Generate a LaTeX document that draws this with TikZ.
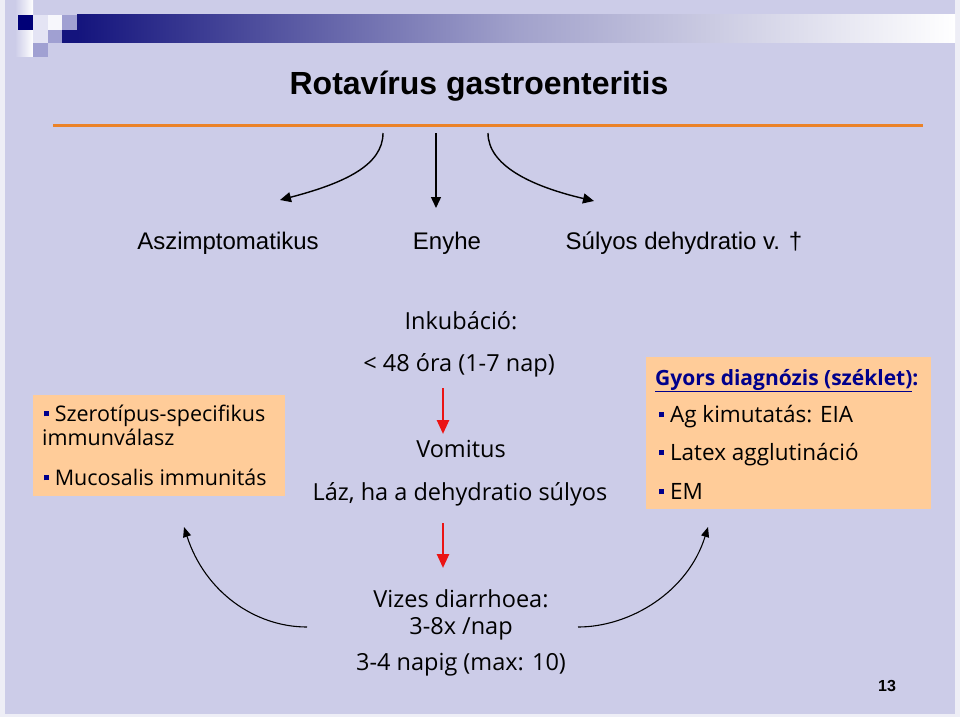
\documentclass[tikz,border=0pt]{standalone}
\usepackage{fontspec}
\setmainfont{Liberation Sans}
\newfontfamily\comic{Open Sans}
\usetikzlibrary{arrows.meta}
\definecolor{bg}{RGB}{204,204,232}
\definecolor{edge}{RGB}{238,238,246}
\definecolor{peach}{RGB}{255,204,153}
\definecolor{navy}{RGB}{0,0,140}
\definecolor{barnavy}{RGB}{20,20,125}
\definecolor{midlav}{RGB}{160,160,210}
\definecolor{palelav}{RGB}{228,228,244}
\definecolor{orangeline}{RGB}{235,130,40}
\definecolor{arrred}{RGB}{235,20,20}
\newcommand{\bul}{\textcolor{navy}{\rule[0.22em]{5pt}{5pt}}}
\tikzset{
  txt/.style={inner sep=0pt, anchor=base},
  ctxt/.style={inner sep=0pt, anchor=base, font=\comic\fontsize{23.5}{26}\selectfont},
  ltxt/.style={inner sep=0pt, anchor=base west, font=\comic\fontsize{21.5}{24}\selectfont},
  rtxt/.style={inner sep=0pt, anchor=base west, font=\comic\fontsize{22.5}{25}\selectfont},
  atxt/.style={inner sep=0pt, anchor=base, font=\fontsize{24}{28}\selectfont},
  blackarr/.style={line width=1.4pt, -{Triangle[width=10pt,length=11pt]}},
  thinarr/.style={line width=1.1pt, -{Triangle[width=8pt,length=10pt]}},
  redarr/.style={arrred, line width=2.6pt, -{Triangle[width=12pt,length=14pt]}},
  box/.style={fill=peach, draw=none}
}
\begin{document}
\begin{tikzpicture}[x=1pt,y=-1pt]
\useasboundingbox (0,0) rectangle (960,717);
\fill[edge] (0,0) rectangle (960,717);
\fill[bg] (5,0) rectangle (955,714);
% header decoration
\shade[left color=bg, right color=white] (15,0) rectangle (33,57);
\shade[left color=barnavy, right color=white, middle color=barnavy!40!white] (77,15) rectangle (955,43);
\fill[barnavy] (62,30) rectangle (78,43);
\fill[navy!85!black] (18,15) rectangle (33,30);
\fill[palelav] (33,15) rectangle (48,43);
\fill[white!70!palelav] (48,15) rectangle (62,30);
\fill[midlav] (62,15) rectangle (77,30);
\fill[midlav] (48,30) rectangle (62,43);
\fill[midlav] (33,43) rectangle (48,57);
% title and rule
\node[txt, font=\bfseries\fontsize{32}{36}\selectfont] (title) at (479,94) {Rotavírus gastroenteritis};
\draw[orangeline, line width=3pt] (53,125.5) coordinate (ruleL) -- (923,125.5) coordinate (ruleR);
% top labels
\node[atxt] (asz) at (228,249) {Aszimptomatikus};
\node[atxt] (eny) at (447,249) {Enyhe};
\node[atxt] (suly) at (684,249) {Súlyos dehydratio v. †};
\coordinate (t1s) at (383,133); \coordinate (t1e) at (280,200);
\coordinate (t2s) at (436,133); \coordinate (t2e) at (436,208);
\coordinate (t3s) at (488,133); \coordinate (t3e) at (594,201);
\draw[blackarr] (t1s) .. controls (383,165) and (345,183) .. (t1e);
\draw[blackarr] (t2s) -- (t2e);
\draw[blackarr] (t3s) .. controls (488,165) and (530,186) .. (t3e);
% left box
\fill[box] (33,395) rectangle (285,496);
\node[ltxt] (l1) at (44,421) {\bul\ Szerotípus-specifikus};
\node[ltxt] (l2) at (42,445) {immunválasz};
\node[ltxt] (l3) at (44,485) {\bul\ Mucosalis immunitás};
% right box
\fill[box] (646,357) rectangle (931,509);
\node[ltxt, font=\comic\bfseries\fontsize{21}{24}\selectfont, text=navy] (r0) at (655,385) {\underline{Gyors diagnózis (széklet)}:};
\node[rtxt] (r1) at (659,422) {\bul\ Ag kimutatás: EIA};
\node[rtxt] (r2) at (659,460) {\bul\ Latex agglutináció};
\node[rtxt] (r3) at (659,499) {\bul\ EM};
% centre column
\node[ctxt] (ink) at (461,329) {Inkubáció:};
\node[ctxt] (ora) at (459,371) {< 48 óra (1-7 nap)};
\node[ctxt] (vom) at (461,457) {Vomitus};
\node[ctxt] (laz) at (460,500) {Láz, ha a dehydratio súlyos};
\node[ctxt] (viz) at (461,607) {Vizes diarrhoea:};
\node[ctxt] (per) at (461,634) {3-8x /nap};
\node[ctxt] (nap) at (461,670) {3-4 napig (max: 10)};
\coordinate (r1s) at (443,388); \coordinate (r1e) at (443,434);
\coordinate (r2s) at (443,523); \coordinate (r2e) at (443,568);
\draw[redarr] (r1s) -- (r1e);
\draw[redarr] (r2s) -- (r2e);
% bottom arcs
\coordinate (b1s) at (307,627); \coordinate (b1e) at (184,527);
\coordinate (b2s) at (578,627); \coordinate (b2e) at (708,527);
\draw[thinarr] (b1s) .. controls (255,627) and (205,592) .. (b1e);
\draw[thinarr] (b2s) .. controls (630,627) and (688,592) .. (b2e);
% page number
\node[txt, font=\bfseries\fontsize{16}{18}\selectfont] (pg) at (887,691) {13};
\end{tikzpicture}
\end{document}
